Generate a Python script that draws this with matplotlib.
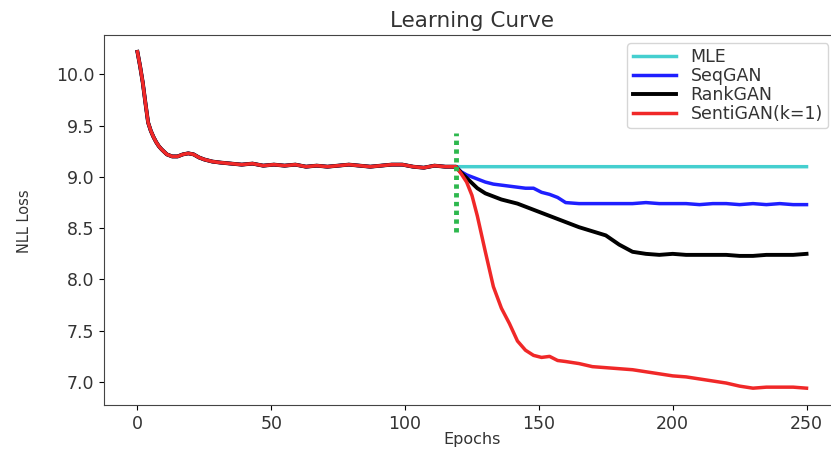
# %%
# Learning curve: NLL loss of MLE / SeqGAN / RankGAN / SentiGAN over epochs
import numpy as np
import matplotlib
matplotlib.use("Agg")
import matplotlib.pyplot as plt

# pre-training part (shared by all models)
pre_epochs = [0, 1, 2, 3, 4, 5, 6, 7, 8, 9, 11, 13, 15, 17, 19, 21, 23, 25, 28, 31,
              35, 39, 43, 47, 51, 55, 59, 63, 67, 71, 75, 79, 83, 87, 91, 95, 99,
              103, 107, 111, 115, 119]
pre_loss = [10.22, 10.08, 9.92, 9.72, 9.53, 9.45, 9.39, 9.34, 9.30, 9.27, 9.22, 9.20,
            9.20, 9.22, 9.23, 9.22, 9.19, 9.17, 9.15, 9.14, 9.13, 9.12, 9.13, 9.11,
            9.12, 9.11, 9.12, 9.10, 9.11, 9.10, 9.11, 9.12, 9.11, 9.10, 9.11, 9.12,
            9.12, 9.10, 9.09, 9.11, 9.10, 9.10]

# adversarial part
adv_epochs = [119, 121, 123, 125, 127, 130, 133, 136, 139, 142, 145, 148, 151, 154,
              157, 160, 165, 170, 175, 180, 185, 190, 195, 200, 205, 210, 215, 220,
              225, 230, 235, 240, 245, 250]
mle_epochs = [119, 250]
mle_loss = [9.10, 9.10]
seqgan_loss = [9.10, 9.05, 9.02, 9.00, 8.98, 8.95, 8.93, 8.92, 8.91, 8.90, 8.89, 8.89,
               8.85, 8.83, 8.80, 8.75, 8.74, 8.74, 8.74, 8.74, 8.74, 8.75, 8.74, 8.74,
               8.74, 8.73, 8.74, 8.74, 8.73, 8.74, 8.73, 8.74, 8.73, 8.73]
rankgan_loss = [9.10, 9.04, 8.99, 8.94, 8.89, 8.84, 8.81, 8.78, 8.76, 8.74, 8.71, 8.68,
                8.65, 8.62, 8.59, 8.56, 8.51, 8.47, 8.43, 8.34, 8.27, 8.25, 8.24, 8.25,
                8.24, 8.24, 8.24, 8.24, 8.23, 8.23, 8.24, 8.24, 8.24, 8.25]
sentigan_loss = [9.10, 9.03, 8.95, 8.82, 8.62, 8.27, 7.93, 7.72, 7.57, 7.40, 7.31, 7.26,
                 7.24, 7.25, 7.21, 7.20, 7.18, 7.15, 7.14, 7.13, 7.12, 7.10, 7.08, 7.06,
                 7.05, 7.03, 7.01, 6.99, 6.96, 6.94, 6.95, 6.95, 6.95, 6.94]

switch_epoch = 119
switch_span = [8.46, 9.43]

# stick the pre-training part in front of every model
def full_curve(ep, loss):
    x = np.concatenate([pre_epochs[:-1], ep])
    y = np.concatenate([pre_loss[:-1], loss])
    return x, y

fig = plt.figure(figsize=(8.31, 4.49), dpi=100)
ax = fig.add_axes([0.1251, 0.098, 0.8857, 0.824])

txt_col = "#333333"
x, y = full_curve(mle_epochs, mle_loss)
ax.plot(x, y, color="#45cfcf", lw=2.5, label="MLE")
x, y = full_curve(adv_epochs, seqgan_loss)
ax.plot(x, y, color="#1f1fff", lw=2.5, label="SeqGAN")
x, y = full_curve(adv_epochs, rankgan_loss)
ax.plot(x, y, color="black", lw=2.8, label="RankGAN")
x, y = full_curve(adv_epochs, sentigan_loss)
ax.plot(x, y, color="#f02828", lw=2.5, label="SentiGAN(k=1)")

# start of adversarial training
ax.plot([switch_epoch, switch_epoch], switch_span, color="#2db84d", lw=3.5, ls=(0, (0.9, 0.9)))

ax.set_title("Learning Curve", fontsize=15.5, color=txt_col)
ax.set_xlabel("Epochs", fontsize=11.5, color=txt_col)
ax.set_ylabel("NLL Loss", fontsize=10.5, color=txt_col)
ax.xaxis.set_label_coords(0.5, -0.072)
ax.yaxis.set_label_coords(-0.098, 0.497)
ax.tick_params(labelsize=12.5, labelcolor=txt_col)
ax.set_xticks([0, 50, 100, 150, 200, 250])
ax.set_yticks([7.0, 7.5, 8.0, 8.5, 9.0, 9.5, 10.0])
for s in ax.spines.values():
    s.set_color("#444444")

ax.legend(loc="upper right", bbox_to_anchor=(0.984, 0.978), borderaxespad=0,
          fontsize=12.5, handlelength=2.5, handletextpad=0.85, labelspacing=0.05,
          borderpad=0.3, labelcolor=txt_col)

fig.savefig("out.png", dpi=100)
